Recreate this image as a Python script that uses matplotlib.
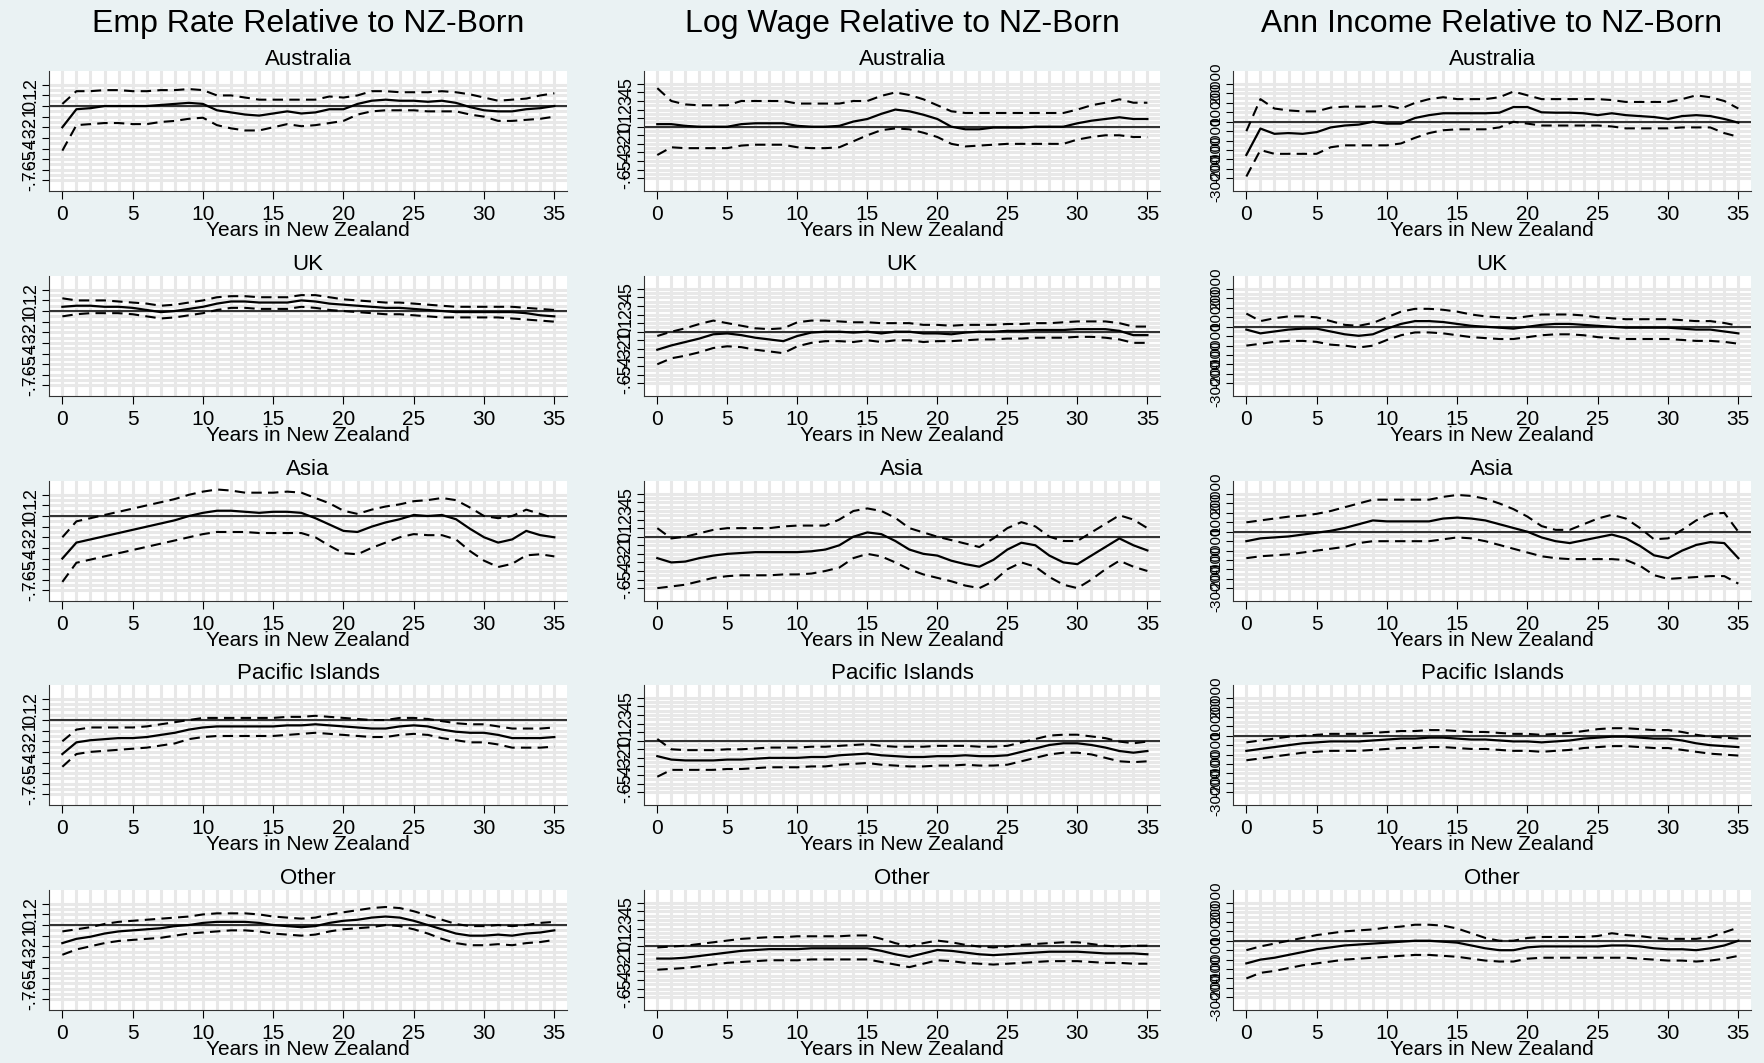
import matplotlib.pyplot as plt
import numpy as np

plt.rcParams['font.family'] = ['Liberation Sans', 'DejaVu Sans']

years = list(range(36))
regions = ['Australia', 'UK', 'Asia', 'Pacific Islands', 'Other']
col_titles = ['Emp Rate Relative to NZ-Born', 'Log Wage Relative to NZ-Born',
              'Ann Income Relative to NZ-Born']

# ---- employment rate ----
emp_est = {
 'Australia': [-0.2,-0.03,-0.02,0,0,0,0,0.01,0.02,0.03,0.02,-0.04,-0.06,-0.08,-0.09,-0.07,-0.05,-0.07,-0.06,-0.03,-0.03,0.02,0.05,0.06,0.05,0.05,0.04,0.05,0.03,-0.01,-0.04,-0.05,-0.05,-0.03,-0.02,0],
 'UK': [0.04,0.05,0.05,0.04,0.04,0.03,0.01,-0.01,0.0,0.02,0.04,0.07,0.09,0.09,0.08,0.08,0.08,0.10,0.09,0.07,0.06,0.05,0.04,0.03,0.03,0.02,0.01,0.0,-0.01,-0.01,-0.01,-0.01,-0.01,-0.02,-0.04,-0.05],
 'Asia': [-0.4,-0.25,-0.22,-0.19,-0.16,-0.13,-0.1,-0.07,-0.04,0.0,0.03,0.05,0.05,0.04,0.03,0.04,0.04,0.03,-0.02,-0.08,-0.14,-0.15,-0.1,-0.06,-0.03,0.01,0.0,0.01,-0.03,-0.12,-0.2,-0.25,-0.22,-0.14,-0.18,-0.2],
 'Pacific Islands': [-0.32,-0.21,-0.19,-0.18,-0.17,-0.17,-0.16,-0.14,-0.12,-0.09,-0.07,-0.06,-0.06,-0.06,-0.06,-0.06,-0.05,-0.05,-0.04,-0.05,-0.06,-0.07,-0.08,-0.08,-0.06,-0.05,-0.06,-0.09,-0.11,-0.12,-0.12,-0.14,-0.17,-0.17,-0.17,-0.16],
 'Other': [-0.17,-0.13,-0.11,-0.08,-0.06,-0.05,-0.04,-0.03,-0.01,0.0,0.02,0.03,0.03,0.03,0.02,0.0,-0.01,-0.02,-0.01,0.02,0.04,0.05,0.07,0.08,0.07,0.04,0.0,-0.04,-0.08,-0.1,-0.1,-0.09,-0.1,-0.08,-0.07,-0.05],
}
emp_hi = {
 'Australia': [0.02,0.14,0.14,0.15,0.15,0.14,0.14,0.15,0.15,0.16,0.15,0.1,0.1,0.08,0.06,0.06,0.06,0.06,0.06,0.09,0.08,0.1,0.14,0.14,0.13,0.13,0.13,0.14,0.13,0.11,0.08,0.05,0.06,0.07,0.1,0.12],
 'UK': [0.12,0.10,0.10,0.10,0.09,0.08,0.07,0.05,0.06,0.08,0.10,0.13,0.14,0.14,0.13,0.13,0.13,0.15,0.15,0.13,0.11,0.10,0.09,0.08,0.08,0.07,0.06,0.05,0.04,0.04,0.04,0.04,0.04,0.03,0.02,0.01],
 'Asia': [-0.2,-0.05,-0.02,0.01,0.04,0.07,0.1,0.13,0.16,0.2,0.23,0.25,0.24,0.22,0.22,0.22,0.23,0.22,0.17,0.12,0.05,0.02,0.06,0.09,0.11,0.14,0.15,0.17,0.15,0.08,0.0,-0.02,0.0,0.06,0.02,-0.02],
 'Pacific Islands': [-0.2,-0.09,-0.07,-0.07,-0.07,-0.07,-0.06,-0.04,-0.02,0.0,0.02,0.02,0.02,0.02,0.02,0.02,0.03,0.03,0.04,0.03,0.02,0.01,0.0,0.0,0.02,0.02,0.01,-0.01,-0.03,-0.04,-0.04,-0.06,-0.08,-0.08,-0.08,-0.07],
 'Other': [-0.06,-0.04,-0.02,0.01,0.03,0.04,0.05,0.06,0.07,0.08,0.10,0.11,0.11,0.11,0.10,0.08,0.07,0.06,0.07,0.10,0.12,0.14,0.16,0.17,0.16,0.13,0.09,0.05,0.01,-0.01,-0.01,0.0,-0.01,0.0,0.02,0.03],
}
emp_lo = {
 'Australia': [-0.42,-0.18,-0.17,-0.16,-0.16,-0.17,-0.17,-0.15,-0.14,-0.12,-0.11,-0.18,-0.21,-0.23,-0.23,-0.2,-0.17,-0.19,-0.18,-0.16,-0.14,-0.08,-0.05,-0.04,-0.04,-0.04,-0.05,-0.05,-0.05,-0.08,-0.1,-0.14,-0.14,-0.13,-0.12,-0.1],
 'UK': [-0.05,-0.03,-0.02,-0.02,-0.02,-0.03,-0.05,-0.07,-0.06,-0.04,-0.02,0.01,0.03,0.03,0.02,0.02,0.02,0.04,0.03,0.01,0.0,-0.01,-0.02,-0.03,-0.03,-0.04,-0.05,-0.06,-0.06,-0.06,-0.06,-0.06,-0.07,-0.08,-0.09,-0.10],
 'Asia': [-0.62,-0.44,-0.41,-0.38,-0.35,-0.32,-0.29,-0.26,-0.23,-0.2,-0.17,-0.15,-0.15,-0.15,-0.16,-0.16,-0.16,-0.16,-0.2,-0.28,-0.35,-0.36,-0.3,-0.25,-0.2,-0.17,-0.18,-0.18,-0.22,-0.33,-0.42,-0.48,-0.45,-0.37,-0.36,-0.38],
 'Pacific Islands': [-0.44,-0.32,-0.3,-0.29,-0.28,-0.27,-0.26,-0.24,-0.22,-0.18,-0.16,-0.15,-0.15,-0.15,-0.15,-0.15,-0.14,-0.13,-0.12,-0.13,-0.14,-0.15,-0.16,-0.16,-0.14,-0.13,-0.14,-0.17,-0.19,-0.21,-0.21,-0.23,-0.26,-0.26,-0.26,-0.25],
 'Other': [-0.28,-0.23,-0.2,-0.17,-0.15,-0.14,-0.13,-0.12,-0.1,-0.08,-0.07,-0.06,-0.05,-0.05,-0.06,-0.08,-0.09,-0.1,-0.09,-0.06,-0.04,-0.03,-0.02,0.0,-0.01,-0.04,-0.08,-0.13,-0.17,-0.19,-0.19,-0.18,-0.19,-0.17,-0.16,-0.14],
}

# ---- log wage ----
wage_est = {
 'Australia': [0.03,0.03,0.01,0.0,0.0,0.0,0.03,0.04,0.04,0.04,0.01,0.0,0.0,0.01,0.06,0.09,0.15,0.2,0.18,0.14,0.09,0.0,-0.03,-0.03,-0.01,-0.01,-0.01,0.0,0.0,0.0,0.04,0.07,0.09,0.11,0.09,0.09],
 'UK': [-0.21,-0.16,-0.12,-0.08,-0.03,-0.02,-0.04,-0.07,-0.09,-0.11,-0.05,-0.01,0.0,0.0,-0.01,0.0,-0.02,0.0,0.0,-0.02,-0.02,-0.03,-0.01,0.0,0.0,0.01,0.01,0.02,0.02,0.02,0.03,0.03,0.03,0.01,-0.04,-0.04],
 'Asia': [-0.25,-0.3,-0.29,-0.25,-0.22,-0.2,-0.19,-0.18,-0.18,-0.18,-0.18,-0.17,-0.15,-0.1,0.0,0.05,0.03,-0.05,-0.15,-0.2,-0.22,-0.28,-0.32,-0.35,-0.27,-0.15,-0.07,-0.1,-0.22,-0.3,-0.32,-0.22,-0.12,-0.02,-0.1,-0.16],
 'Pacific Islands': [-0.18,-0.22,-0.23,-0.23,-0.23,-0.22,-0.22,-0.21,-0.2,-0.2,-0.2,-0.19,-0.19,-0.17,-0.16,-0.15,-0.17,-0.18,-0.19,-0.19,-0.18,-0.18,-0.17,-0.18,-0.18,-0.17,-0.13,-0.09,-0.05,-0.03,-0.03,-0.05,-0.08,-0.12,-0.14,-0.12],
 'Other': [-0.15,-0.15,-0.14,-0.12,-0.1,-0.08,-0.06,-0.05,-0.04,-0.04,-0.04,-0.03,-0.03,-0.03,-0.03,-0.03,-0.06,-0.1,-0.13,-0.09,-0.05,-0.06,-0.08,-0.1,-0.11,-0.1,-0.09,-0.08,-0.07,-0.07,-0.07,-0.08,-0.09,-0.09,-0.09,-0.1],
}
wage_hi = {
 'Australia': [0.45,0.3,0.26,0.25,0.25,0.25,0.3,0.3,0.3,0.3,0.27,0.27,0.27,0.27,0.3,0.3,0.36,0.4,0.37,0.32,0.25,0.18,0.16,0.16,0.16,0.16,0.16,0.16,0.16,0.16,0.2,0.25,0.28,0.32,0.28,0.28],
 'UK': [-0.05,0.0,0.04,0.09,0.13,0.1,0.07,0.04,0.03,0.04,0.11,0.13,0.13,0.12,0.11,0.11,0.1,0.1,0.1,0.08,0.08,0.07,0.08,0.08,0.08,0.09,0.09,0.1,0.1,0.11,0.12,0.12,0.12,0.1,0.06,0.06],
 'Asia': [0.1,-0.02,0.0,0.04,0.08,0.1,0.1,0.1,0.1,0.12,0.13,0.13,0.13,0.2,0.3,0.33,0.3,0.22,0.1,0.05,0.0,-0.04,-0.08,-0.12,-0.02,0.1,0.17,0.12,0.0,-0.05,-0.05,0.05,0.15,0.25,0.2,0.1],
 'Pacific Islands': [0.02,-0.1,-0.11,-0.11,-0.11,-0.1,-0.1,-0.09,-0.08,-0.08,-0.08,-0.07,-0.07,-0.06,-0.05,-0.04,-0.06,-0.07,-0.07,-0.07,-0.06,-0.06,-0.06,-0.07,-0.07,-0.06,-0.02,0.02,0.06,0.07,0.07,0.05,0.03,-0.01,-0.03,-0.01],
 'Other': [-0.02,-0.01,0.0,0.02,0.04,0.06,0.08,0.09,0.1,0.1,0.11,0.11,0.11,0.11,0.12,0.12,0.08,0.03,-0.01,0.03,0.06,0.04,0.01,-0.01,-0.02,-0.01,0.01,0.02,0.03,0.04,0.04,0.02,0.0,-0.01,0.0,0.0],
}
wage_lo = {
 'Australia': [-0.33,-0.24,-0.25,-0.25,-0.25,-0.25,-0.22,-0.21,-0.21,-0.21,-0.24,-0.25,-0.25,-0.24,-0.17,-0.1,-0.04,-0.02,-0.03,-0.07,-0.12,-0.2,-0.23,-0.22,-0.21,-0.2,-0.2,-0.2,-0.2,-0.2,-0.15,-0.12,-0.1,-0.1,-0.12,-0.12],
 'UK': [-0.38,-0.31,-0.28,-0.24,-0.19,-0.17,-0.18,-0.21,-0.23,-0.25,-0.17,-0.13,-0.11,-0.11,-0.12,-0.1,-0.12,-0.1,-0.1,-0.12,-0.11,-0.11,-0.1,-0.09,-0.09,-0.08,-0.08,-0.07,-0.07,-0.07,-0.06,-0.06,-0.07,-0.09,-0.13,-0.13],
 'Asia': [-0.6,-0.58,-0.56,-0.52,-0.48,-0.46,-0.45,-0.45,-0.45,-0.44,-0.44,-0.43,-0.4,-0.36,-0.25,-0.2,-0.23,-0.3,-0.38,-0.44,-0.48,-0.52,-0.57,-0.6,-0.52,-0.38,-0.3,-0.35,-0.47,-0.56,-0.6,-0.5,-0.38,-0.28,-0.35,-0.4],
 'Pacific Islands': [-0.42,-0.34,-0.34,-0.34,-0.34,-0.33,-0.33,-0.32,-0.31,-0.31,-0.31,-0.3,-0.3,-0.28,-0.27,-0.26,-0.28,-0.29,-0.3,-0.3,-0.29,-0.29,-0.28,-0.29,-0.29,-0.28,-0.24,-0.2,-0.16,-0.14,-0.14,-0.16,-0.2,-0.24,-0.25,-0.24],
 'Other': [-0.28,-0.27,-0.26,-0.24,-0.22,-0.2,-0.19,-0.18,-0.17,-0.17,-0.17,-0.16,-0.16,-0.16,-0.16,-0.16,-0.19,-0.22,-0.25,-0.21,-0.17,-0.18,-0.2,-0.21,-0.22,-0.21,-0.2,-0.19,-0.18,-0.18,-0.18,-0.19,-0.2,-0.2,-0.21,-0.21],
}

# ---- annual income ----
inc_est = {
 'Australia': [-17600,-3600,-6400,-6000,-6400,-5500,-3000,-2000,-1500,0,-1000,-1000,2000,3500,4500,4500,4500,4500,4800,7800,7800,5000,4800,4800,4500,3500,4500,3500,3000,2500,1500,3000,3500,3000,1500,-500],
 'UK': [-1500,-3500,-2500,-1500,-1000,-1000,-2500,-4000,-4800,-4000,-1000,1500,3000,3000,2500,1500,500,0,-500,-1000,0,1000,1500,1500,1000,500,0,-500,-500,-500,-500,-1000,-1500,-1500,-2500,-3500],
 'Asia': [-5000,-3500,-3000,-2500,-1500,-500,500,2000,4000,6000,5500,5500,5500,5500,7000,7500,7000,6000,4000,2000,0,-3000,-5000,-6000,-4500,-3000,-1500,-3500,-7500,-12500,-14000,-10000,-7000,-5500,-6000,-14000],
 'Pacific Islands': [-8000,-7000,-6000,-5000,-4000,-3500,-3000,-3000,-3000,-2500,-2000,-1500,-1500,-1000,-1000,-1500,-2000,-2000,-2500,-3000,-3000,-3500,-3000,-2500,-1500,-1000,-500,-500,-1000,-1500,-1500,-2500,-4000,-5000,-5500,-6000],
 'Other': [-12000,-10000,-9000,-7500,-6000,-4500,-3500,-2500,-2000,-1500,-1000,-500,0,0,-500,-1000,-2500,-4000,-5000,-5000,-3500,-3000,-3000,-3000,-3000,-3000,-2500,-2500,-3000,-4000,-4500,-4500,-5000,-4000,-2500,0],
}
inc_hi = {
 'Australia': [-5000,12000,7000,6000,5500,5500,7500,8000,8000,8000,8500,7000,10000,12000,13000,12000,12000,12000,13000,16000,14000,12000,12000,12000,12000,12000,11500,10500,10500,10500,10500,12000,14000,13000,11000,7000],
 'UK': [7000,3000,4500,5500,5500,5000,3000,1000,500,2000,5000,8000,9500,9500,9000,8000,6500,5500,5000,4500,5500,6500,6500,6500,6000,5000,4500,4000,4000,4000,4000,3500,3000,3000,2000,500],
 'Asia': [5000,6000,7000,8000,8500,9500,11000,13000,15000,17000,17000,17000,17000,17000,18500,19500,19000,17500,15000,12000,8000,3000,1000,1000,4000,7000,9000,7000,2000,-4000,-3500,1000,6000,9500,10000,0],
 'Pacific Islands': [-3500,-2500,-1500,-500,0,500,1000,1000,1000,1500,2000,2500,2500,3000,3000,2500,2000,2000,1500,1000,1000,500,1000,1500,2500,3500,4000,4000,3500,3000,3000,2000,500,-500,-1000,-1500],
 'Other': [-5000,-3000,-1500,0,1500,3000,4000,5000,5500,6000,7000,7500,8500,8500,8000,6500,4000,1500,0,0,1500,2000,2000,2000,2000,2500,4000,3000,2500,1500,1000,1000,1000,2000,4500,7000],
}
inc_lo = {
 'Australia': [-29000,-15000,-17000,-17000,-17000,-17000,-13500,-12500,-12500,-12500,-12500,-11500,-8500,-6000,-4500,-4000,-4000,-4000,-3000,0,-1000,-2000,-2000,-2000,-2000,-2000,-2500,-3500,-3500,-3500,-3500,-3000,-3000,-3000,-6000,-8000],
 'UK': [-10000,-9000,-8000,-7500,-7500,-8000,-9500,-10000,-11000,-10000,-7000,-4500,-3000,-3000,-3500,-4500,-5500,-6000,-6500,-6500,-5500,-4500,-4000,-4000,-4500,-5500,-6000,-6500,-6500,-6500,-6500,-7000,-7500,-7500,-8000,-9000],
 'Asia': [-14000,-13000,-12500,-12000,-11000,-10000,-9000,-8000,-6000,-5000,-5000,-5000,-5000,-5000,-4000,-3000,-3500,-5000,-7000,-9000,-11000,-13000,-14000,-14500,-14500,-14500,-14500,-15000,-18000,-23000,-25000,-24500,-24000,-23500,-23500,-27500],
 'Pacific Islands': [-13000,-12000,-11000,-10000,-9000,-8500,-8000,-8000,-8000,-7500,-7000,-6500,-6500,-6000,-6000,-6500,-7000,-7000,-7500,-8000,-8000,-8500,-8000,-7500,-6500,-6000,-5500,-5500,-6000,-6500,-6500,-7500,-8500,-9500,-10000,-10500],
 'Other': [-20000,-17000,-16000,-14500,-13000,-12000,-11000,-10000,-9500,-9000,-8500,-8000,-7500,-7500,-8000,-8500,-9500,-10500,-11000,-11000,-9500,-9000,-9000,-9000,-9000,-9000,-9000,-9000,-9500,-10000,-10500,-10500,-11000,-10500,-9500,-8000],
}

emp_ticks = [-0.7, -0.6, -0.5, -0.4, -0.3, -0.2, -0.1, 0, 0.1, 0.2]
emp_labels = ['-.7', '-.6', '-.5', '-.4', '-.3', '-.2', '-.1', '0', '.1', '.2']
wage_ticks = [-0.6, -0.5, -0.4, -0.3, -0.2, -0.1, 0, 0.1, 0.2, 0.3, 0.4, 0.5]
wage_labels = ['-.6', '-.5', '-.4', '-.3', '-.2', '-.1', '0', '.1', '.2', '.3', '.4', '.5']
inc_ticks = list(range(-30000, 20001, 5000))
inc_labels = ['-30000', '', '-20000', '', '-10000', '', '0', '', '10000', '', '20000']

cols = [
    (emp_est, emp_hi, emp_lo, emp_ticks, emp_labels, (-0.8, 0.33)),
    (wage_est, wage_hi, wage_lo, wage_ticks, wage_labels, (-0.75, 0.65)),
    (inc_est, inc_hi, inc_lo, inc_ticks, inc_labels, (-36700, 26900)),
]

W, H = 1765, 1063
bg = '#eaf2f3'
fig = plt.figure(figsize=(W / 100, H / 100), dpi=100, facecolor=bg)

col_left = [49, 644, 1233]
col_w = [518, 516, 518]
row_top = [71, 276, 481, 685, 890]
ax_h = 120

for c, (est, hi, lo, ticks, labels, ylim) in enumerate(cols):
    cx = (col_left[c] + col_w[c] / 2) / W
    fig.text(cx, 1 - 24 / H, col_titles[c], ha='center', va='center', fontsize=23)
    for r, reg in enumerate(regions):
        ax = fig.add_axes([col_left[c] / W, 1 - (row_top[r] + ax_h) / H, col_w[c] / W, ax_h / H])
        ax.set_facecolor('white')
        for x in years:
            ax.axvline(x, color='#e8e8e8', lw=2.2, zorder=0)
        step = ticks[1] - ticks[0]
        for yv in np.arange(ticks[0], ticks[-1] + step / 4, step / 2):
            ax.axhline(yv, color='#e8e8e8', lw=2.2, zorder=0)
        ax.axhline(0, color='#333333', lw=1.5, zorder=2)
        ax.plot(years, hi[reg], color='black', lw=1.5, ls=(0, (5, 3)), zorder=3)
        ax.plot(years, lo[reg], color='black', lw=1.5, ls=(0, (5, 3)), zorder=3)
        ax.plot(years, est[reg], color='black', lw=1.6, zorder=4)
        ax.set_xlim(-0.95, 35.9)
        ax.set_ylim(*ylim)
        ax.set_xticks(range(0, 36, 5))
        ax.set_yticks(ticks)
        ax.set_yticklabels(labels, rotation=90, va='center', fontsize=13 if c < 2 else 11)
        ax.tick_params(axis='x', labelsize=15, length=6, direction='out', pad=4)
        ax.tick_params(axis='y', length=5, direction='out', pad=2)
        for s in ['top', 'right']:
            ax.spines[s].set_visible(False)
        ax.spines['left'].set_color('#333333')
        ax.spines['bottom'].set_color('#333333')
        ax.set_title(reg, fontsize=16, pad=4)
        ax.set_xlabel('Years in New Zealand', fontsize=15, labelpad=-2)

fig.savefig('out.png', dpi=100, facecolor=bg)
